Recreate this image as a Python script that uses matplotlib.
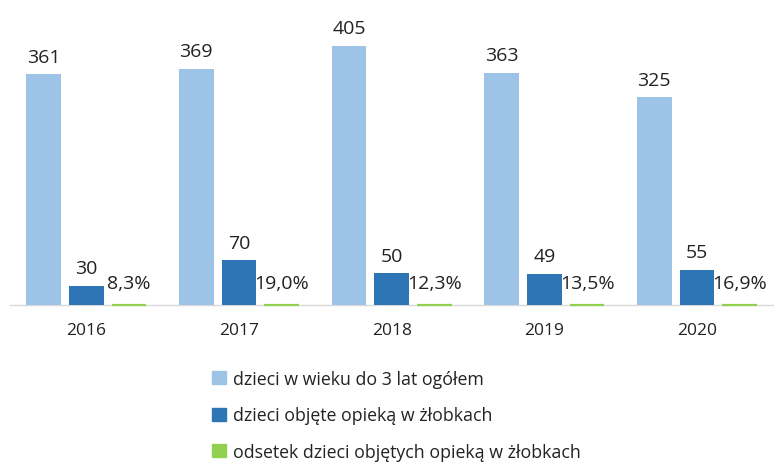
import numpy as np
import matplotlib
matplotlib.use("Agg")
import matplotlib.pyplot as plt
from matplotlib.patches import Patch

years = ["2016", "2017", "2018", "2019", "2020"]
total = [361, 369, 405, 363, 325]
in_nursery = [30, 70, 50, 49, 55]
share_pct = [8.3, 19.0, 12.3, 13.5, 16.9]

labels = ["dzieci w wieku do 3 lat ogółem",
          "dzieci objęte opieką w żłobkach",
          "odsetek dzieci objętych opieką w żłobkach"]
colors = ["#9DC3E6", "#2E75B6", "#92D050"]

plt.rcParams['font.family'] = ['Open Sans', 'DejaVu Sans']

fig = plt.figure(figsize=(7.74, 4.64), dpi=100)
ax = fig.add_axes([0.013, 0.3405, 0.994, 0.621])

x = np.arange(len(years))
w = 0.227
step = 0.28
# the share is plotted on the same axis as a fraction, so it shows as a thin line
share = np.array(share_pct) / 100.0

ax.bar(x - step, total, w, color=colors[0], zorder=3)
ax.bar(x, in_nursery, w, color=colors[1], zorder=3)
ax.bar(x + step, share, w, color=colors[2], edgecolor=colors[2], linewidth=1.6,
       zorder=4, clip_on=False)

fs = 14
for xi, v in zip(x, total):
    ax.text(xi - step, v + 13, str(v), ha='center', va='bottom', fontsize=fs, color='#222222')
for xi, v in zip(x, in_nursery):
    ax.text(xi, v + 13, str(v), ha='center', va='bottom', fontsize=fs, color='#222222')
for xi, v in zip(x, share_pct):
    ax.text(xi + step, 34, f"{v:.1f}%".replace('.', ','), ha='center', va='center',
            fontsize=fs, color='#222222')

ax.set_xlim(-0.5, len(years) - 0.5 + 0.04)
ax.set_ylim(0, 450)
ax.set_yticks([])
ax.set_xticks(x)
ax.set_xticklabels(years, fontsize=12.5, color='#222222')
ax.tick_params(axis='x', length=0, pad=12)
for s in ['top', 'right', 'left']:
    ax.spines[s].set_visible(False)
ax.spines['bottom'].set_color('#D9D9D9')
ax.spines['bottom'].set_linewidth(1)
ax.spines['bottom'].set_zorder(1)

handles = [Patch(facecolor=c, edgecolor=c) for c in colors]
fig.legend(handles, labels, loc='upper left', bbox_to_anchor=(0.263, 0.22), frameon=False,
           fontsize=12.8, handlelength=0.75, handleheight=0.75, handletextpad=0.4,
           labelspacing=1.04, borderpad=0, labelcolor='#222222')

fig.savefig("out.png", dpi=100)
